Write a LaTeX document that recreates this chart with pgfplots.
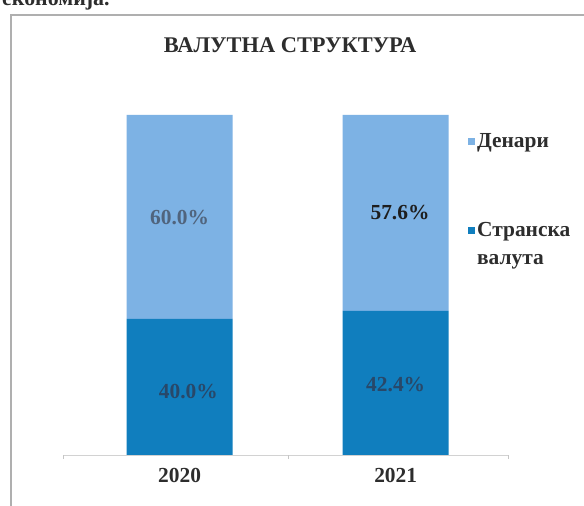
\documentclass[border=0pt]{standalone}
\usepackage{fontspec}
\setmainfont{Liberation Serif}
\usepackage{pgfplots}
\pgfplotsset{compat=1.18}
\definecolor{den}{RGB}{125,178,228}
\definecolor{str}{RGB}{16,126,190}
\definecolor{framec}{RGB}{175,175,175}
\definecolor{txt}{RGB}{45,45,45}
\definecolor{lab1}{RGB}{80,100,125}
\definecolor{lab2}{RGB}{30,30,30}
\definecolor{lab3}{RGB}{40,72,105}
\begin{document}
\begin{tikzpicture}[x=1bp,y=1bp]
\useasboundingbox (0,0) rectangle (584,506);
\fill[white] (0,0) rectangle (584,506);
\draw[framec, line width=2bp] (11,0) -- (11,491) -- (584,491);
\node[anchor=base west, font=\bfseries\fontsize{22}{26}\selectfont, text=txt, inner sep=0] at (2,500) {економија.};
\node[font=\bfseries\fontsize{22.5}{26}\selectfont, text=txt] at (290,461) {ВАЛУТНА СТРУКТУРА};
\begin{axis}[
  at={(63bp,51bp)}, anchor=south west,
  scale only axis, width=445bp, height=340bp,
  xmin=-0.54, xmax=1.52, ymin=0, ymax=100,
  ybar stacked, bar width=106bp,
  hide y axis, axis x line*=bottom,
  x axis line style={draw=gray!35, line width=0.8bp, -},
  xtick={0,1}, xticklabels={2020,2021},
  major tick length=0pt,
  extra x ticks={-0.54,0.5,1.52}, extra x tick labels={},
  extra x tick style={major tick length=4bp, tick align=outside, tick style={gray!45}},
  xticklabel style={font=\bfseries\fontsize{21.5}{24}\selectfont, text=txt, yshift=-10bp},
  reverse legend,
  legend style={draw=none, fill=none, inner sep=0pt, at={(0.910,0.953)}, anchor=north west,
    font=\bfseries\fontsize{21.5}{28}\selectfont, text=txt,
    cells={anchor=base west, inner ysep=0pt, inner xsep=2.5bp}, row sep=64bp},
  legend image code/.code={\fill (0bp,2.5bp) rectangle (7bp,9.5bp);},
]
\addplot[fill=str, draw=none] coordinates {(0,40.0) (1,42.4)};
\addplot[fill=den, draw=none] coordinates {(0,60.0) (1,57.6)};
\legend{{\begin{tabular}[t]{@{}l@{}}Странска\\валута\end{tabular}}, Денари}
\end{axis}
\begin{axis}[
  at={(63bp,51bp)}, anchor=south west,
  scale only axis, width=445bp, height=340bp,
  xmin=-0.54, xmax=1.52, ymin=0, ymax=100,
  hide axis,
]
\addplot[only marks, mark=none, point meta=explicit symbolic,
  nodes near coords,
  nodes near coords style={anchor=center, font=\bfseries\fontsize{21.5}{24}\selectfont}]
  coordinates {
    (0,69.7) [\textcolor{lab1}{60.0\%}]
    (0.04,18.8) [\textcolor{lab3}{40.0\%}]
    (1.02,71.2) [\textcolor{lab2}{57.6\%}]
    (1.0,20.6) [\textcolor{lab3}{42.4\%}]
  };
\end{axis}
\end{tikzpicture}
\end{document}
